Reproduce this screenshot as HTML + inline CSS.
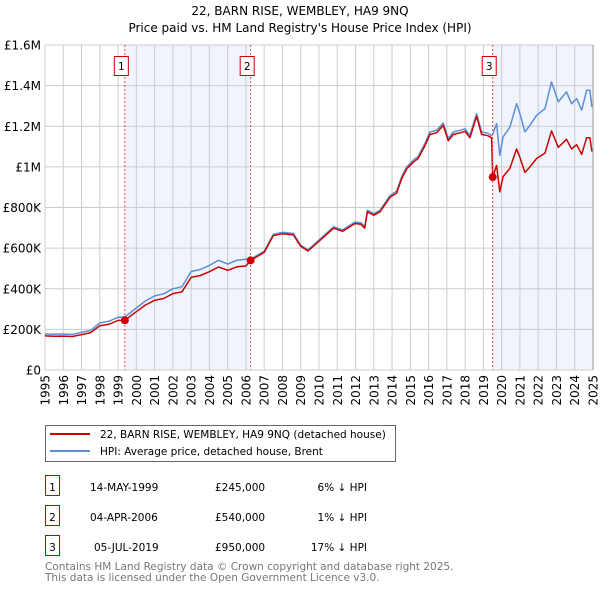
<!DOCTYPE html>
<html><head><meta charset="utf-8"><style>
body{margin:0;background:#fff}
svg{display:block;font-family:"DejaVu Sans","Liberation Sans",sans-serif}
</style></head><body>
<svg id="c" width="600" height="590" xmlns="http://www.w3.org/2000/svg">
<text x="300" y="15" text-anchor="middle" font-size="12">22, BARN RISE, WEMBLEY, HA9 9NQ</text>
<text x="300" y="32" text-anchor="middle" font-size="12">Price paid vs. HM Land Registry's House Price Index (HPI)</text>
<g id="bg"></g><g id="grid"></g><g id="series"></g><g id="marks"></g><g id="axes"></g>
<g>
<rect x="45.5" y="425.5" width="350" height="36" fill="#fff" stroke="#666"/>
<line x1="50" y1="434" x2="90" y2="434" stroke="#cc0000" stroke-width="2"/>
<text x="100" y="438" font-size="10.5">22, BARN RISE, WEMBLEY, HA9 9NQ (detached house)</text>
<line x1="50" y1="451" x2="90" y2="451" stroke="#5b8fd6" stroke-width="2"/>
<text x="100" y="455" font-size="10.5">HPI: Average price, detached house, Brent</text>
</g>
<g font-size="10.5">
<rect x="45.5" y="475.5" width="14" height="20" fill="none" stroke="#cc0000"/>
<text x="52.5" y="491" text-anchor="middle">1</text>
<text x="90" y="491">14-MAY-1999</text>
<text x="215" y="491">£245,000</text>
<text x="367" y="491" text-anchor="end">6% ↓ HPI</text>
<rect x="45.5" y="505.5" width="14" height="20" fill="none" stroke="#cc0000"/>
<text x="52.5" y="521" text-anchor="middle">2</text>
<text x="90" y="521">04-APR-2006</text>
<text x="215" y="521">£540,000</text>
<text x="367" y="521" text-anchor="end">1% ↓ HPI</text>
<rect x="45.5" y="535.5" width="14" height="20" fill="none" stroke="#cc0000"/>
<text x="52.5" y="551" text-anchor="middle">3</text>
<text x="94" y="551">05-JUL-2019</text>
<text x="215" y="551">£950,000</text>
<text x="367" y="551" text-anchor="end">17% ↓ HPI</text>
</g>
<text x="45" y="570" font-size="10.5" fill="#777">Contains HM Land Registry data © Crown copyright and database right 2025.</text>
<text x="45" y="581" font-size="10.5" fill="#777">This data is licensed under the Open Government Licence v3.0.</text>
</svg>
<script>
const years=[1995,1995.5,1996,1996.5,1997,1997.5,1998,1998.5,1999,1999.37,2000,2000.5,2001,2001.5,2002,2002.5,2003,2003.5,2004,2004.5,2005,2005.5,2006,2006.26,2007,2007.5,2008,2008.6,2009,2009.4,2010,2010.8,2011.3,2011.97,2012.3,2012.5,2012.65,2013,2013.34,2013.9,2014.25,2014.52,2014.8,2015.16,2015.43,2015.8,2016.07,2016.44,2016.8,2017.08,2017.36,2017.72,2018,2018.26,2018.63,2018.9,2019.26,2019.45,2019.51,2019.72,2019.9,2020.08,2020.45,2020.82,2021,2021.27,2021.55,2021.91,2022.37,2022.73,2023.1,2023.55,2023.83,2024.1,2024.38,2024.65,2024.83,2024.94];
const hpi=[177,176,177,175,185,195,232,240,260,261,305,340,365,375,400,410,485,495,515,540,522,540,545,546,585,668,678,672,615,592,640,705,690,728,725,705,787,770,787,860,880,950,1000,1033,1052,1115,1172,1180,1216,1140,1172,1180,1187,1155,1262,1172,1165,1155,1160,1213,1057,1147,1196,1311,1262,1172,1205,1254,1287,1418,1320,1369,1311,1336,1279,1377,1377,1295];
const paid=[168,166,167,165,174,184,218,225,244,245,287,320,343,352,376,385,456,465,484,507,491,508,512,540,579,661,671,665,609,586,634,698,683,721,718,698,779,762,779,851,871,941,990,1023,1041,1104,1160,1168,1204,1129,1160,1168,1175,1143,1249,1160,1153,1143,950,1007,877,952,993,1088,1047,973,1000,1041,1068,1177,1096,1136,1088,1109,1062,1143,1143,1075];
const saleYears=[1999.37,2006.26,2019.51];
const salePrices=[245,540,950];
const saleLabels=["1","2","3"];
const yTicks=[0,200,400,600,800,1000,1200,1400,1600];
const yTickLabels=["£0","£200K","£400K","£600K","£800K","£1M","£1.2M","£1.4M","£1.6M"];
const xTicks=[1995,1996,1997,1998,1999,2000,2001,2002,2003,2004,2005,2006,2007,2008,2009,2010,2011,2012,2013,2014,2015,2016,2017,2018,2019,2020,2021,2022,2023,2024,2025];

const L=45,R=593,T=45,B=370;
const X=y=>L+(y-1995)/30*(R-L);
const Y=v=>B-v/1600*(B-T);
const NS="http://www.w3.org/2000/svg";
function mk(tag,attrs,parent){const e=document.createElementNS(NS,tag);for(const k in attrs)e.setAttribute(k,attrs[k]);document.getElementById(parent).appendChild(e);return e;}

let r=mk('rect',{x:L,y:T,width:R-L,height:B-T,fill:'#fff'},'bg');


r=mk('rect',{x:X(saleYears[0]),y:T,width:X(saleYears[1])-X(saleYears[0]),height:B-T,fill:'#f0f4fc'},'bg');


r=mk('rect',{x:X(saleYears[2]),y:T,width:R-X(saleYears[2]),height:B-T,fill:'#f0f4fc'},'bg');



yTicks.forEach((v,i)=>{
 let g=mk('line',{x1:L,x2:R,y1:Y(v),y2:Y(v),stroke:'#ccc','stroke-width':1},'grid');
 
 
 let t=mk('text',{x:L-4,y:Y(v)+4.5,'text-anchor':'end','font-size':'12'},'axes');
 t.textContent=yTickLabels[i];
 
 
});
xTicks.forEach(v=>{
 let g=mk('line',{x1:X(v),x2:X(v),y1:T,y2:B,stroke:'#ccc','stroke-width':1},'grid');
 
 
 let t=mk('text',{x:0,y:0,'text-anchor':'end','font-size':'12',transform:`translate(${X(v)+4.5},${B+5}) rotate(-90)`},'axes');
 t.textContent=v;
 
 
});

const pts=a=>a.map((v,i)=>X(years[i]).toFixed(1)+','+Y(v).toFixed(1)).join(' ');
let p=mk('polyline',{points:pts(hpi),fill:'none',stroke:'#5b8fd6','stroke-width':1.5,'stroke-linejoin':'round'},'series');


p=mk('polyline',{points:pts(paid),fill:'none',stroke:'#cc0000','stroke-width':1.5,'stroke-linejoin':'round'},'series');



saleYears.forEach((yr,i)=>{
 let l=mk('line',{x1:X(yr),x2:X(yr),y1:T,y2:B,stroke:'#e05050','stroke-width':1,'stroke-dasharray':'2,2'},'marks');
 
 
 let c=mk('circle',{cx:X(yr),cy:Y(salePrices[i]),r:4,fill:'#cc0000'},'marks');
 
 
 let b=mk('rect',{x:X(yr)-10.5,y:56.5,width:14,height:19,fill:'#fff',stroke:'#cc0000'},'marks');
 
 
 let t=mk('text',{x:X(yr)-3.5,y:70,'text-anchor':'middle','font-size':'10.5'},'marks');
 t.textContent=saleLabels[i];
 
 
});
let ax=mk('line',{x1:R,x2:R,y1:T,y2:B,stroke:'#999'},'axes');


</script>
</body></html>
